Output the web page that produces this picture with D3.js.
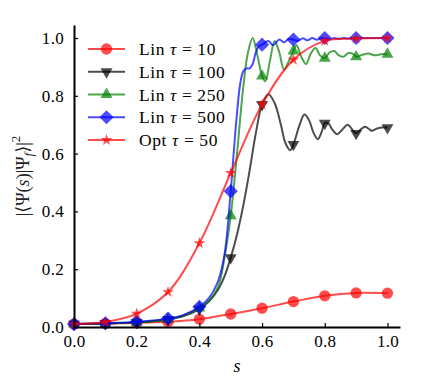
<!DOCTYPE html>
<html>
<head>
<meta charset="utf-8">
<script src="https://cdn.jsdelivr.net/npm/d3@7"></script>
<style>
  body { margin: 0; background: #fff; }
  text { font-family: "Liberation Serif", "DejaVu Serif", serif; }
</style>
</head>
<body>
<div id="chart"></div>
<script>
// values
const lin10S = [0, 0.1, 0.2, 0.3, 0.4, 0.5, 0.6, 0.7, 0.8, 0.9, 1.0];
const lin10V = [0.010, 0.012, 0.014, 0.018, 0.027, 0.045, 0.065, 0.088, 0.108, 0.118, 0.117];

const lin100S = [0, 0.1, 0.2, 0.3, 0.35, 0.4, 0.43, 0.46, 0.48, 0.5, 0.52, 0.54, 0.56, 0.58, 0.6, 0.62, 0.64, 0.66, 0.675, 0.69, 0.7, 0.72, 0.735, 0.75, 0.765, 0.778, 0.79, 0.8, 0.81, 0.825, 0.84, 0.855, 0.873, 0.89, 0.9, 0.915, 0.928, 0.94, 0.95, 0.965, 0.98, 1.0];
const lin100V = [0.010, 0.012, 0.016, 0.026, 0.038, 0.062, 0.088, 0.13, 0.175, 0.24, 0.32, 0.42, 0.54, 0.67, 0.77, 0.805, 0.775, 0.70, 0.635, 0.612, 0.632, 0.70, 0.735, 0.715, 0.67, 0.65, 0.675, 0.705, 0.706, 0.682, 0.667, 0.682, 0.70, 0.68, 0.67, 0.684, 0.693, 0.686, 0.679, 0.686, 0.69, 0.69];

const lin250S = [0, 0.1, 0.2, 0.3, 0.35, 0.4, 0.43, 0.46, 0.48, 0.5, 0.52, 0.54, 0.555, 0.57, 0.585, 0.6, 0.61, 0.625, 0.64, 0.655, 0.67, 0.685, 0.7, 0.71, 0.725, 0.74, 0.755, 0.77, 0.785, 0.8, 0.815, 0.83, 0.845, 0.86, 0.875, 0.89, 0.9, 0.92, 0.94, 0.96, 0.98, 1.0];
const lin250V = [0.010, 0.012, 0.016, 0.027, 0.04, 0.066, 0.09, 0.14, 0.24, 0.385, 0.6, 0.83, 0.95, 1.0, 0.94, 0.868, 0.85, 0.92, 0.99, 0.95, 0.89, 0.92, 0.955, 0.975, 0.935, 0.91, 0.945, 0.965, 0.94, 0.93, 0.95, 0.955, 0.94, 0.935, 0.948, 0.945, 0.935, 0.942, 0.946, 0.94, 0.944, 0.944];

const lin500S = [0, 0.1, 0.2, 0.3, 0.35, 0.4, 0.43, 0.46, 0.48, 0.5, 0.51, 0.52, 0.53, 0.54, 0.55, 0.56, 0.57, 0.58, 0.59, 0.6, 0.62, 0.635, 0.655, 0.67, 0.685, 0.7, 0.715, 0.73, 0.745, 0.76, 0.775, 0.79, 0.8, 0.815, 0.83, 0.845, 0.86, 0.875, 0.89, 0.9, 0.92, 0.94, 0.96, 0.98, 1.0];
const lin500V = [0.010, 0.013, 0.018, 0.029, 0.042, 0.07, 0.1, 0.16, 0.25, 0.47, 0.61, 0.74, 0.84, 0.885, 0.895, 0.895, 0.91, 0.95, 0.972, 0.977, 0.99, 0.975, 0.995, 0.985, 0.997, 0.995, 0.99, 0.999, 0.992, 1.0, 0.994, 1.0, 1.0, 0.996, 1.0, 0.997, 1.0, 0.998, 1.0, 1.0, 1.0, 1.0, 1.0, 1.0, 1.0];

const opt50S = [0, 0.1, 0.2, 0.3, 0.4, 0.5, 0.6, 0.7, 0.8, 0.9, 1.0];
const opt50V = [0.010, 0.017, 0.046, 0.121, 0.29, 0.533, 0.77, 0.925, 0.99, 0.998, 1.0];

const labels = ["10", "100", "250", "500", "50"];
const prefixes = ["Lin", "Lin", "Lin", "Lin", "Opt"];
const xTicks = [0, 0.2, 0.4, 0.6, 0.8, 1.0];
const yTicks = [0, 0.2, 0.4, 0.6, 0.8, 1.0];

const w = 435;
const h = 381;

const series = [
  { s: lin10S, v: lin10V, color: "#ff0000", marker: "circle" },
  { s: lin100S, v: lin100V, color: "#000000", marker: "tridown" },
  { s: lin250S, v: lin250V, color: "#008000", marker: "triup" },
  { s: lin500S, v: lin500V, color: "#0000ff", marker: "diamond" },
  { s: opt50S, v: opt50V, color: "#ff0000", marker: "star" }
];

const svg = d3.select("#chart").append("svg")
  .attr("width", w)
  .attr("height", h)
  .style("background", "#fff");

const xScale = d3.scaleLinear().domain([0, 1.04]).range([74, 400]);
const yScale = d3.scaleLinear().domain([0, 1.045]).range([327, 25]);

function markerPath(type) {
  if (type == "circle") return d3.symbol(d3.symbolCircle, 100)();
  if (type == "tridown" || type == "triup") return d3.symbol(d3.symbolTriangle, 62)();
  if (type == "diamond") return d3.symbol(d3.symbolSquare, 100)();
  return d3.symbol(d3.symbolStar, 42)();
}
function markerRot(type) {
  if (type == "tridown") return " rotate(180)";
  if (type == "diamond") return " rotate(45)";
  return "";
}

const line = d3.line()
  .x(d => xScale(d[0]))
  .y(d => yScale(d[1]))
  .curve(d3.curveCatmullRom.alpha(0.5));

series.forEach(function (ser) {
  const pts = ser.s.map((s, i) => [s, ser.v[i]]);
  const g = svg.append("g");
  g.append("path")
    .datum(pts)
    .attr("d", line)
    .attr("fill", "none")
    .attr("stroke", ser.color)
    .attr("stroke-opacity", 0.7)
    .attr("stroke-width", 2);
  const marks = pts.filter(d => Math.abs(d[0] * 10 - Math.round(d[0] * 10)) < 1e-6);
  g.selectAll("path.mk")
    .data(marks)
    .enter().append("path")
    .attr("class", "mk")
    .attr("d", markerPath(ser.marker))
    .attr("transform", d => "translate(" + xScale(d[0]) + "," + yScale(d[1]) + ")" + markerRot(ser.marker))
    .attr("fill", ser.color)
    .attr("fill-opacity", 0.7);
});

// axes, ticks pointing inward
const xAxis = d3.axisBottom(xScale)
  .tickValues(xTicks)
  .tickFormat(d3.format(".1f"))
  .tickSizeInner(-4)
  .tickSizeOuter(0)
  .tickPadding(8);

const yAxis = d3.axisLeft(yScale)
  .tickValues(yTicks)
  .tickFormat(d3.format(".1f"))
  .tickSizeInner(-4)
  .tickSizeOuter(0)
  .tickPadding(10);

const gx = svg.append("g")
  .attr("transform", "translate(0," + 327 + ")")
  .call(xAxis);
const gy = svg.append("g")
  .attr("transform", "translate(" + 74 + ",0)")
  .call(yAxis);

[gx, gy].forEach(function (g) {
  g.select(".domain").attr("stroke", "#000").attr("stroke-width", 2);
  g.selectAll(".tick line").attr("stroke", "#000").attr("stroke-width", 1.2);
  g.selectAll(".tick text").attr("fill", "#000").style("font-size", "17px")
    .style("letter-spacing", "0.3px")
    .style("font-family", "'Liberation Serif', serif");
});

// axis titles
svg.append("text")
  .attr("x", 237)
  .attr("y", 372)
  .attr("text-anchor", "middle")
  .style("font-size", "18px")
  .style("font-style", "italic")
  .text("s");

const ylab = svg.append("text")
  .attr("transform", "translate(" + 29 + "," + 176 + ") rotate(-90)")
  .attr("text-anchor", "middle")
  .style("font-size", "18px")
  .attr("fill", "#222");
ylab.append("tspan").text("|⟨Ψ(");
ylab.append("tspan").style("font-style", "italic").text("s");
ylab.append("tspan").text(")|Ψ");
ylab.append("tspan").style("font-style", "italic").style("font-size", "13px").attr("dy", 4).text("f");
ylab.append("tspan").attr("dy", -4).text("⟩|");
ylab.append("tspan").style("font-size", "13px").attr("dy", -9).text("2");

// legend
const legend = svg.selectAll(".legend")
  .data(series)
  .enter().append("g")
  .attr("class", "legend")
  .attr("transform", (d, i) => "translate(88," + (49 + i * 22.75) + ")");

legend.append("line")
  .attr("x1", 0)
  .attr("x2", 37)
  .attr("stroke", d => d.color)
  .attr("stroke-opacity", 0.7)
  .attr("stroke-width", 2);

legend.append("path")
  .attr("d", d => markerPath(d.marker))
  .attr("transform", d => "translate(18.5,0)" + markerRot(d.marker))
  .attr("fill", d => d.color)
  .attr("fill-opacity", 0.7);

const lt = legend.append("text")
  .attr("x", 51)
  .attr("y", 6)
  .style("font-size", "17.5px")
  .style("letter-spacing", "0.6px");
lt.append("tspan").text((d, i) => prefixes[i] + " ");
lt.append("tspan").style("font-style", "italic").text("τ");
lt.append("tspan").text((d, i) => " = " + labels[i]);
</script>
</body>
</html>
